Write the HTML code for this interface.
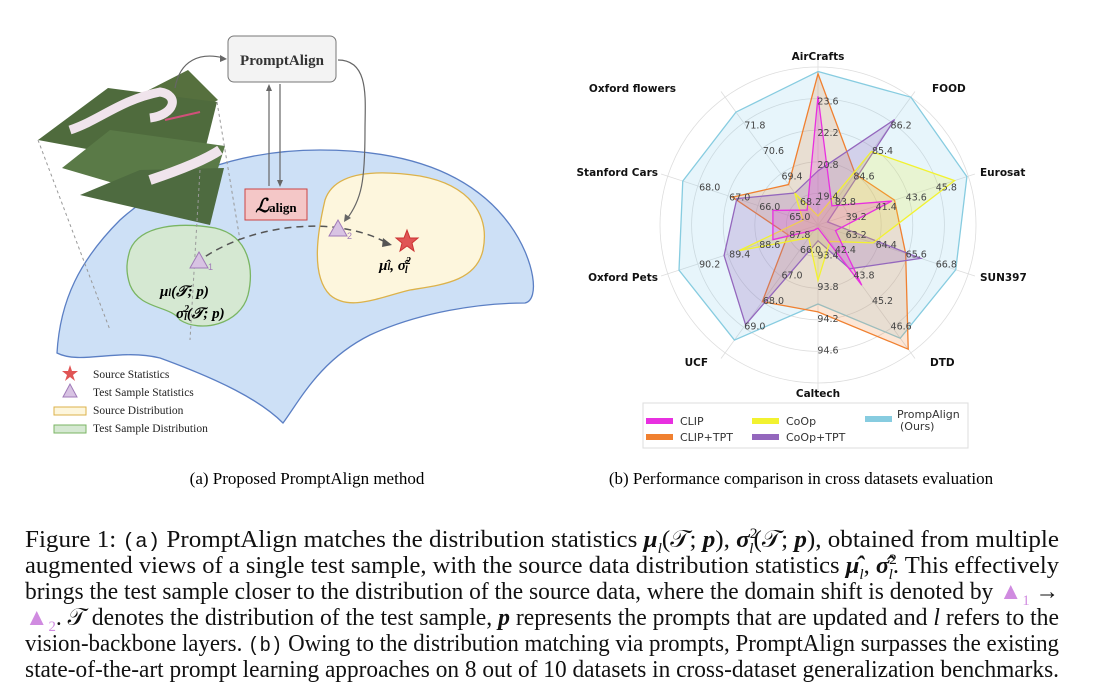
<!DOCTYPE html>
<html><head><meta charset="utf-8">
<style>
body{margin:0;background:#fff;width:1095px;height:683px;overflow:hidden;font-family:"Liberation Serif",serif;}
#cap{position:absolute;left:25px;top:527px;width:1034px;font-size:24px;line-height:26px;color:#111;}
#cap .l{display:block;white-space:nowrap;height:26px;}
#cap .in{display:inline-block;transform-origin:0 0;}
#cap sup,#cap sub{line-height:0;font-size:15px;}
.mono{font-family:"Liberation Mono",monospace;font-size:20px;}
.tri{color:#d08be0;}
</style></head>
<body>
<svg width="1095" height="683" style="position:absolute;left:0;top:0">
<g>
<path d="M57,353 C60,300 80,260 120,220 C170,175 240,150 320,150 C400,150 470,170 510,225 C535,260 540,300 525,303 C480,303 420,312 370,335 C320,360 300,400 283,423 C260,400 220,380 160,358 C120,348 80,365 57,353 Z" fill="#cde0f6" stroke="#5b7fc4" stroke-width="1.3"/>
<path d="M325,200 C335,170 380,170 420,176 C470,185 490,215 483,250 C476,282 440,285 410,290 C380,297 350,312 330,295 C310,275 318,230 325,200 Z" fill="#fdf6dd" stroke="#dcb24a" stroke-width="1.3"/>
<path d="M130,250 C140,225 180,222 215,228 C250,236 254,270 248,295 C240,325 200,333 180,320 C170,305 140,310 130,285 C125,270 127,260 130,250 Z" fill="#d5e8d2" stroke="#7ab563" stroke-width="1.3"/>
<g>
<polygon points="80,125 188,70 218,100 112,160" fill="#56703e"/>
<polygon points="38,140 108,88 217,102 200,170" fill="#4f6b3d"/>
<polygon points="62,168 110,130 225,146 205,210" fill="#5a7a47"/>
<polygon points="80,195 140,170 224,168 210,225" fill="#4e6b40"/>
<path d="M70,130 C100,120 120,100 160,92 C180,95 175,115 150,118" stroke="#f0e4ec" stroke-width="9" fill="none"/>
<path d="M150,180 C180,170 205,160 220,150" stroke="#f0e4ec" stroke-width="10" fill="none"/>
<path d="M165,120 L200,112" stroke="#d0507a" stroke-width="2" fill="none"/>
<line x1="38" y1="140" x2="110" y2="330" stroke="#999" stroke-dasharray="3,3"/>
<line x1="200" y1="170" x2="190" y2="340" stroke="#999" stroke-dasharray="3,3"/>
<line x1="217" y1="102" x2="240" y2="240" stroke="#999" stroke-dasharray="3,3"/>
</g>
<rect x="228" y="36" width="108" height="46" rx="6" fill="#f3f3f3" stroke="#777"/>
<text x="282" y="65" text-anchor="middle" font-size="15" font-weight="bold" fill="#333">PromptAlign</text>
<rect x="245" y="189" width="62" height="31" fill="#f4c7c7" stroke="#c44"/>
<text x="276" y="212" text-anchor="middle" font-size="19" font-style="italic" font-weight="bold">ℒ<tspan font-size="13" font-style="normal">align</tspan></text>
<line x1="269" y1="186" x2="269" y2="86" stroke="#666" stroke-width="1.2"/><polygon points="269,84 266,91 272,91" fill="#666"/>
<line x1="280" y1="84" x2="280" y2="184" stroke="#666" stroke-width="1.2"/><polygon points="280,187 277,180 283,180" fill="#666"/>
<path d="M175,88 C180,60 200,52 224,58" stroke="#666" fill="none" stroke-width="1.2"/><polygon points="227,59 220,55 220,62" fill="#666"/>
<path d="M338,60 C370,60 365,100 365,130 C365,180 362,200 346,220" stroke="#666" fill="none" stroke-width="1.2"/><polygon points="344,222 345,214 351,218" fill="#666"/>
<path d="M196,263 C240,230 300,222 340,228 C365,232 378,238 385,242" stroke="#555" stroke-width="1.5" stroke-dasharray="7,5" fill="none"/><polygon points="392,245 383,238 382,247" fill="#555"/>
<polygon points="199,252 190,268 208,268" fill="#d8c3e3" stroke="#a07ab8"/>
<text x="208" y="270" font-size="9" fill="#a07ab8" font-family="Liberation Sans">1</text>
<polygon points="338,220 329,236 347,236" fill="#d8c3e3" stroke="#a07ab8"/>
<text x="347" y="239" font-size="9" fill="#a07ab8" font-family="Liberation Sans">2</text>
<polygon points="407,230 410,238 418,238 412,243 414,251 407,246 400,251 402,243 396,238 404,238" fill="#e05555" stroke="#c33"/>
<text x="395" y="270" text-anchor="middle" font-size="15" font-style="italic" font-weight="bold">μ̂<tspan font-size="10">l</tspan>, σ̂<tspan font-size="10" dy="-6">2</tspan><tspan font-size="10" dx="-6" dy="9">l</tspan></text>
<text x="160" y="296" font-size="15" font-style="italic" font-weight="bold">μ<tspan font-size="10">l</tspan>(𝒯; p)</text>
<text x="176" y="318" font-size="15" font-style="italic" font-weight="bold">σ<tspan font-size="10" dy="-6">2</tspan><tspan font-size="10" dx="-5" dy="8">l</tspan><tspan dy="-2">(𝒯; p)</tspan></text>
<g font-size="11.5" fill="#222">
<polygon points="70,365 72,371 78,371 73,375 75,381 70,377 65,381 67,375 62,371 68,371" fill="#e05555"/>
<text x="93" y="378">Source Statistics</text>
<polygon points="70,384 63,397 77,397" fill="#d8c3e3" stroke="#a07ab8"/>
<text x="93" y="396">Test Sample Statistics</text>
<rect x="54" y="407" width="32" height="8" fill="#fdf6dd" stroke="#dcb24a"/>
<text x="93" y="414">Source Distribution</text>
<rect x="54" y="425" width="32" height="8" fill="#d5e8d2" stroke="#7ab563"/>
<text x="93" y="432">Test Sample Distribution</text>
</g>
</g>
<g id="radar" font-family="DejaVu Sans, sans-serif"></g>
<text x="307" y="484" text-anchor="middle" font-size="17">(a) Proposed PromptAlign method</text>
<text x="801" y="484" text-anchor="middle" font-size="17">(b) Performance comparison in cross datasets evaluation</text>
</svg>
<div id="cap">
<span class="l"><span class="in">Figure 1: <span class="mono">(a)</span> PromptAlign matches the distribution statistics <b><i>μ</i></b><sub><i>l</i></sub>(𝒯; <b><i>p</i></b>), <b><i>σ</i></b><sup>2</sup><sub style="margin-left:-8px"><i>l</i></sub>(𝒯; <b><i>p</i></b>), obtained from multiple</span></span>
<span class="l"><span class="in">augmented views of a single test sample, with the source data distribution statistics <b><i>μ̂</i></b><sub><i>l</i></sub>, <b><i>σ̂</i></b><sup>2</sup><sub style="margin-left:-8px"><i>l</i></sub>. This effectively</span></span>
<span class="l"><span class="in">brings the test sample closer to the distribution of the source data, where the domain shift is denoted by <span class="tri">▲<sub>1</sub></span> →</span></span>
<span class="l"><span class="in"><span class="tri">▲<sub>2</sub></span>. 𝒯 denotes the distribution of the test sample, <b><i>p</i></b> represents the prompts that are updated and <i>l</i> refers to the</span></span>
<span class="l"><span class="in">vision-backbone layers. <span class="mono">(b)</span> Owing to the distribution matching via prompts, PromptAlign surpasses the existing</span></span>
<span class="l"><span class="in">state-of-the-art prompt learning approaches on 8 out of 10 datasets in cross-dataset generalization benchmarks.</span></span>
</div>
<script>
document.querySelectorAll('#cap .in').forEach(e=>{const w=e.getBoundingClientRect().width;e.style.transform='scaleX('+(1034/w)+')';});
const categories=["AirCrafts","FOOD","Eurosat","SUN397","DTD","Caltech","UCF","Oxford Pets","Stanford Cars","Oxford flowers"];
const tickStart=[19.4,83.8,39.2,63.2,42.4,93.4,66.0,87.8,65.0,68.2];
const tickStep=[1.4,0.8,2.2,1.2,1.4,0.4,1.0,0.8,1.0,1.2];
const seriesNames=["PrompAlign","CLIP+TPT","CoOp+TPT","CoOp","CLIP"];
const promptAlign=[24.8,87.0,47.9,67.5,47.2,94.0,69.5,90.7,68.5,72.3];
const clipTpt=[24.7,84.6,42.6,65.5,47.8,94.1,68.0,87.8,66.85,68.9];
const coopTpt=[20.4,86.3,37.7,66.1,43.4,93.2,68.9,89.5,66.7,68.5];
const coop=[18.4,85.3,47.0,64.2,41.9,93.7,65.5,89.1,64.5,68.5];
const clip=[23.7,83.6,42.4,62.7,44.3,93.04,65.2,88.2,65.5,67.7];
const seriesColors=["#87cce0","#f08030","#9467bd","#f2f230","#e830e0"];
const seriesFill=["rgba(135,206,235,0.2)","rgba(240,128,48,0.2)","rgba(148,103,189,0.25)","rgba(242,242,48,0.2)","rgba(232,48,224,0.2)"];
const NS="http://www.w3.org/2000/svg";
const cx=818,cy=225,ring=31.6;
const g=document.getElementById('radar');
function ang(i){return -Math.PI/2+i*2*Math.PI/categories.length;}
function rad(i,v){return ring*(1+(v-tickStart[i])/tickStep[i]);}
function pt(i,r){return [cx+r*Math.cos(ang(i)),cy+r*Math.sin(ang(i))];}
function mk(t,a){const e=document.createElementNS(NS,t);for(const k in a)e.setAttribute(k,a[k]);g.appendChild(e);return e;}
for(let k=1;k<=5;k++){const c=mk('circle',{cx:cx,cy:cy,r:ring*k,fill:'none',stroke:'#ddd','stroke-width':0.8});

}
categories.forEach((c,i)=>{const p=pt(i,165);const l=mk('line',{x1:cx,y1:cy,x2:p[0],y2:p[1],stroke:'#ddd','stroke-width':0.8});

});
[promptAlign,clipTpt,coopTpt,coop,clip].forEach((s,j)=>{
const pts=s.map((v,i)=>pt(i,rad(i,v)).join(',')).join(' ');
const p=mk('polygon',{points:pts,fill:seriesFill[j],stroke:seriesColors[j],'stroke-width':1.3});

});
categories.forEach((c,i)=>{for(let k=0;k<4;k++){const v=tickStart[i]+k*tickStep[i];const p=pt(i,ring*(k+1)-2);
const t=mk('text',{x:p[0]+10,y:p[1]+4,'font-size':9.5,fill:'#444','text-anchor':'middle'});t.textContent=v.toFixed(1);

}});
const lblPos=[[818,60,'middle'],[932,92,'start'],[980,176,'start'],[980,281,'start'],[930,366,'start'],[818,397,'middle'],[708,366,'end'],[658,281,'end'],[658,176,'end'],[676,92,'end']];
categories.forEach((c,i)=>{const q=lblPos[i];const t=mk('text',{x:q[0],y:q[1],'font-size':10.5,'font-weight':'bold','text-anchor':q[2],fill:'#111'});t.textContent=c;

});
const lg=mk('rect',{x:643,y:403,width:325,height:45,fill:'#fff',stroke:'#ddd'});


const legItems=[["CLIP",646,421,4],["CLIP+TPT",646,437,1],["CoOp",752,421,3],["CoOp+TPT",752,437,2]];
legItems.forEach(L=>{const r=mk('rect',{x:L[1],y:L[2]-3,width:27,height:6,fill:seriesColors[L[3]]});


const t=mk('text',{x:L[1]+34,y:L[2]+4,'font-size':11,fill:'#333'});t.textContent=L[0];

});
const pr=mk('rect',{x:865,y:416,width:27,height:6,fill:seriesColors[0]});


const pt1=mk('text',{x:897,y:418,'font-size':11,fill:'#333'});pt1.textContent="PrompAlign";


const pt2=mk('text',{x:900,y:430,'font-size':11,fill:'#333'});pt2.textContent="(Ours)";


</script>
</body></html>
